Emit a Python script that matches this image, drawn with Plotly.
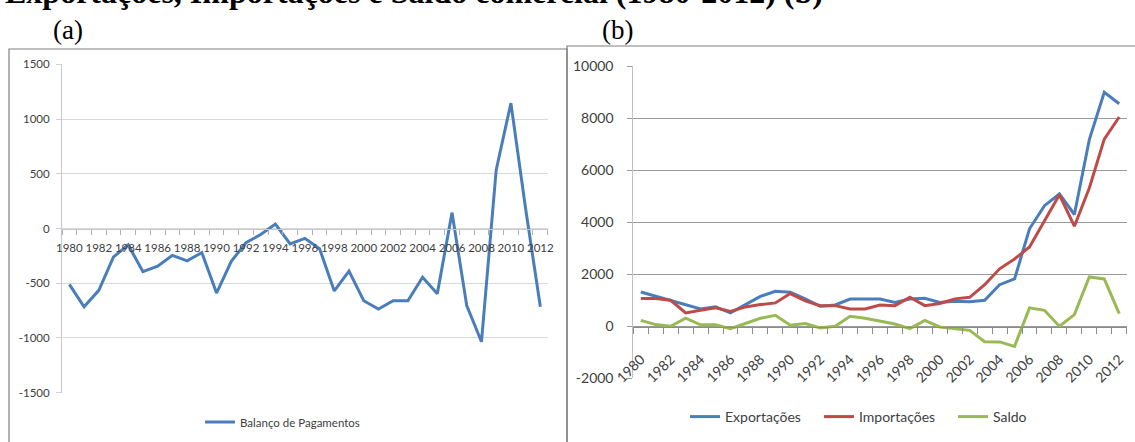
import plotly.graph_objects as go

W, H = 1135, 442

years = list(range(1980, 2013))
balanco = [-510, -715, -565, -260, -150, -395, -345, -245, -295, -220, -590, -300, -130, -55, 40,
           -140, -90, -185, -570, -390, -660, -735, -660, -660, -445, -595, 145, -705, -1035, 535,
           1145, 180, -715]
exportacoes = [1320, 1150, 1000, 820, 670, 750, 515, 835, 1150, 1345, 1310, 1055, 770, 820, 1050,
               1050, 1050, 920, 1050, 1075, 920, 960, 945, 1000, 1600, 1820, 3750, 4640, 5090, 4300,
               7180, 9000, 8560]
importacoes = [1065, 1065, 1000, 515, 615, 710, 575, 745, 835, 900, 1260, 975, 795, 795, 670,
               670, 820, 795, 1115, 795, 875, 1055, 1115, 1600, 2210, 2590, 3050, 4040, 5060, 3850,
               5320, 7200, 8050]
saldo = [230, 65, 0, 310, 55, 55, -90, 105, 310, 425, 40, 105, -60, 0, 385,
         310, 190, 90, -90, 230, -25, -100, -155, -590, -600, -770, 710, 615, 0, 450,
         1900, 1820, 490]

ticks_a = [-1500, -1000, -500, 0, 500, 1000, 1500]
ticks_b = [-2000, 0, 2000, 4000, 6000, 8000, 10000]
label_years = years[::2]
boundaries = [y - 0.5 for y in years] + [years[-1] + 0.5]

title_text = "Exportações, Importações e Saldo comercial (1980-2012) (b)"

BLUE = "#4A7EBB"
RED = "#BE4B48"
GREEN = "#98B954"
TXT = "#404040"
FONT = "Lato"


def px(x):
    return x / W


def py(y):
    return 1 - y / H


fig = go.Figure()
fig.add_trace(go.Scatter(x=years, y=balanco, mode="lines", name="Balanço de Pagamentos",
                         line=dict(color=BLUE, width=3), xaxis="x", yaxis="y", legend="legend"))
fig.add_trace(go.Scatter(x=years, y=exportacoes, mode="lines", name="Exportações",
                         line=dict(color=BLUE, width=3), xaxis="x2", yaxis="y2", legend="legend2"))
fig.add_trace(go.Scatter(x=years, y=importacoes, mode="lines", name="Importações",
                         line=dict(color=RED, width=3), xaxis="x2", yaxis="y2", legend="legend2"))
fig.add_trace(go.Scatter(x=years, y=saldo, mode="lines", name="Saldo",
                         line=dict(color=GREEN, width=3), xaxis="x2", yaxis="y2", legend="legend2"))

fig.update_layout(
    template="none",
    width=W, height=H, autosize=False,
    margin=dict(l=0, r=0, t=0, b=0, pad=0, autoexpand=False),
    paper_bgcolor="white", plot_bgcolor="white",
    font=dict(family=FONT, color=TXT),
    xaxis=dict(
        domain=[px(62), px(547.7)], range=[1979.5, 2012.5], automargin=False,
        anchor="free", position=py(228.7),
        tickmode="array", tickvals=label_years, ticktext=[str(y) for y in label_years],
        ticks="outside", ticklen=4, tickcolor="rgba(0,0,0,0)",
        minor=dict(tickvals=boundaries, ticks="outside", ticklen=5, tickcolor="#b0b0b0",
                   tickwidth=1, showgrid=False),
        showgrid=False, zeroline=False, showline=True, linecolor="#c8c8c8", linewidth=1,
        tickfont=dict(family=FONT, size=11.5, color=TXT), tickangle=0,
        ticklabelstandoff=4,
    ),
    yaxis=dict(
        domain=[py(392.7), py(64.3)], range=[-1500, 1500], anchor="x", automargin=False,
        tickmode="array", tickvals=ticks_a, ticktext=[str(v) for v in ticks_a],
        ticks="outside", ticklen=5, tickcolor="#d0d0d0",
        showgrid=True, gridcolor="#d9d9d9", gridwidth=1, zeroline=False,
        showline=True, linecolor="#c8c8c8", linewidth=1,
        tickfont=dict(family=FONT, size=11.5, color=TXT), ticklabelstandoff=4,
    ),
    xaxis2=dict(
        domain=[px(633.3), px(1126.7)], range=[1979.5, 2012.5], automargin=False,
        anchor="free", position=py(326.7),
        tickmode="array", tickvals=label_years, ticktext=[str(y) for y in label_years],
        ticks="outside", ticklen=6, tickcolor="rgba(0,0,0,0)",
        minor=dict(tickvals=boundaries, ticks="outside", ticklen=6, tickcolor="#8c8c8c",
                   tickwidth=1, showgrid=False),
        showgrid=False, zeroline=False, showline=True, linecolor="#8c8c8c", linewidth=1,
        tickfont=dict(family=FONT, size=14, color=TXT), tickangle=-45,
        ticklabelstandoff=12,
    ),
    yaxis2=dict(
        domain=[py(378.3), py(66.3)], range=[-2000, 10000], anchor="x2", automargin=False,
        tickmode="array", tickvals=ticks_b, ticktext=[str(v) for v in ticks_b],
        ticks="outside", ticklen=5, tickcolor="#9a9a9a",
        showgrid=True, gridcolor="#9a9a9a", gridwidth=1, zeroline=False,
        showline=True, linecolor="#c0c0c0", linewidth=1,
        tickfont=dict(family=FONT, size=14, color=TXT), ticklabelstandoff=11,
    ),
    legend=dict(orientation="h", x=px(200), xanchor="left", y=py(422), yanchor="middle",
                font=dict(family=FONT, size=11.5, color=TXT), bgcolor="rgba(0,0,0,0)"),
    legend2=dict(orientation="h", x=px(685), xanchor="left", y=py(417), yanchor="middle",
                 font=dict(family=FONT, size=14, color=TXT), bgcolor="rgba(0,0,0,0)",
                 entrywidth=89, entrywidthmode="pixels"),
    showlegend=True,
)

# chart frames
fig.add_shape(type="rect", xref="paper", yref="paper", x0=px(9), x1=px(567), y0=py(460), y1=py(49),
              line=dict(color="#7f7f7f", width=1.2), fillcolor="rgba(0,0,0,0)", layer="below")
fig.add_shape(type="rect", xref="paper", yref="paper", x0=px(567), x1=px(1150), y0=py(460), y1=py(46),
              line=dict(color="#7f7f7f", width=1.2), fillcolor="rgba(0,0,0,0)", layer="below")

fig.add_annotation(text="<b>" + title_text + "</b>", xref="paper", yref="paper",
                   x=px(3), xanchor="left", y=py(-8), yanchor="middle", showarrow=False,
                   font=dict(family="Liberation Serif", size=32, color="black"))
fig.add_annotation(text="(a)", xref="paper", yref="paper", x=px(68), xanchor="center",
                   y=py(30), yanchor="middle", showarrow=False,
                   font=dict(family="Liberation Serif", size=27, color="black"))
fig.add_annotation(text="(b)", xref="paper", yref="paper", x=px(618), xanchor="center",
                   y=py(30), yanchor="middle", showarrow=False,
                   font=dict(family="Liberation Serif", size=27, color="black"))

fig.write_html("out.html",
               config={"displayModeBar": False},
               post_script="document.body.style.margin='0';document.body.style.padding='0';"
                           "document.documentElement.style.overflow='hidden';")
